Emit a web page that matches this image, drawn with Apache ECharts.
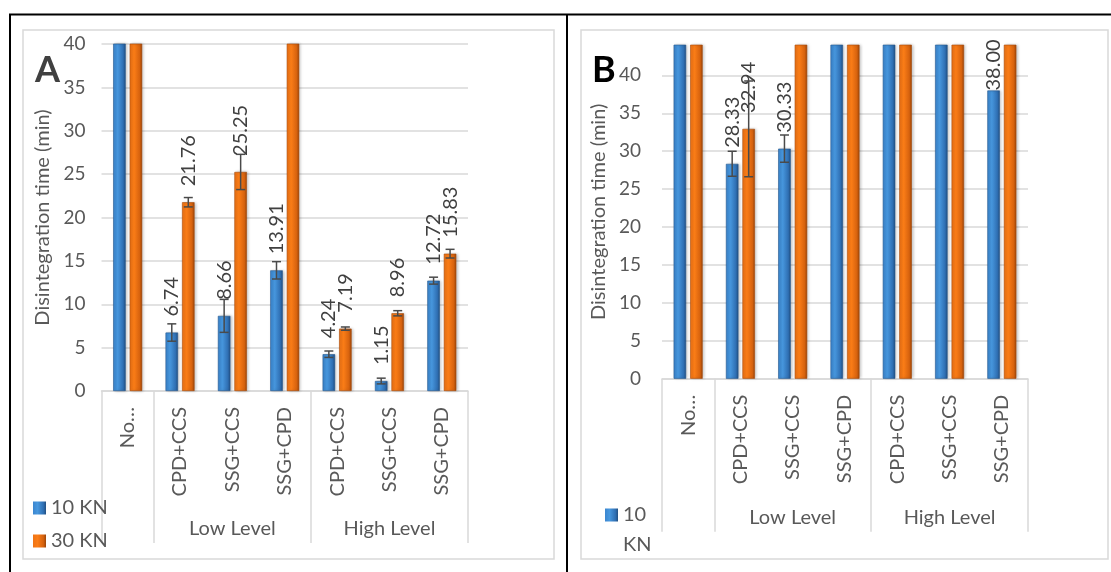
<!DOCTYPE html>
<html><head><meta charset="utf-8">
<script src="https://cdn.jsdelivr.net/npm/echarts@6/dist/echarts.min.js"></script>
<style>html,body{margin:0;padding:0;background:#fff;}#c{width:1111px;height:572px;}</style>
</head><body><div id="c"></div>
<script>
// ---------- data ----------
const categories = ['No…', 'CPD+CCS', 'SSG+CCS', 'SSG+CPD', 'CPD+CCS', 'SSG+CCS', 'SSG+CPD'];
const groups = ['', 'Low Level', 'Low Level', 'Low Level', 'High Level', 'High Level', 'High Level'];
const seriesNames = ['10 KN', '30 KN'];
// Panel A (values above the axis maximum are cut off in the figure)
const a10 = [45, 6.74, 8.66, 13.91, 4.24, 1.15, 12.72];
const a30 = [45, 21.76, 25.25, 45, 7.19, 8.96, 15.83];
const a10Err = [0, 1.0, 1.9, 1.0, 0.37, 0.33, 0.4];
const a30Err = [0, 0.54, 2.03, 0, 0.19, 0.3, 0.5];
// Panel B
const b10 = [48, 28.33, 30.33, 48, 48, 48, 38.00];
const b30 = [48, 32.94, 48, 48, 48, 48, 48];
const b10Err = [0, 1.65, 1.8, 0, 0, 0, 0];
const b30Err = [0, 6.3, 0, 0, 0, 0, 0];
const yMaxA = 40, yMaxB = 44, yStep = 5;

// ---------- styling ----------
const FONT = 'Lato';
const AX = '#595959';
const GRID = '#d9d9d9';
const BAR_W = 12.5, BAR_GAP = 0.32;
const G = echarts.graphic.LinearGradient;
const colors = [
  new G(0, 0, 1, 0, [{offset: 0, color: '#3b86cf'}, {offset: 0.35, color: '#4797de'}, {offset: 0.8, color: '#2f6fb3'}, {offset: 1, color: '#234f80'}]),
  new G(0, 0, 1, 0, [{offset: 0, color: '#ef7415'}, {offset: 0.35, color: '#fb7d17'}, {offset: 0.8, color: '#d6620e'}, {offset: 1, color: '#9a450a'}])
];
const legendColors = [
  new G(0, 0, 0, 1, [{offset: 0, color: '#5aaef0'}, {offset: 1, color: '#2a64a6'}]),
  new G(0, 0, 0, 1, [{offset: 0, color: '#fb9a3a'}, {offset: 1, color: '#c4540c'}])
];

const boundary = i => i === 0 || groups[i] !== groups[i - 1];
const groupMid = i => {
  if (!groups[i]) return false;
  const idx = groups.map((g, k) => g === groups[i] ? k : -1).filter(k => k >= 0);
  return idx[Math.floor(idx.length / 2)] === i;
};

function xAxes(gi, tickLen, groupOffset) {
  return [
    {
      type: 'category', gridIndex: gi, data: categories, position: 'bottom',
      axisLine: {show: true, lineStyle: {color: GRID, width: 1.5}},
      axisTick: {show: true, length: tickLen, interval: boundary, lineStyle: {color: GRID, width: 1.5}},
      axisLabel: {rotate: 90, interval: 0, margin: 16, color: AX, fontSize: 20, fontFamily: FONT},
      splitLine: {show: false}
    },
    {
      type: 'category', gridIndex: gi, data: groups, position: 'bottom', offset: groupOffset,
      axisLine: {show: false}, axisTick: {show: false}, splitLine: {show: false},
      axisLabel: {interval: 0, margin: 0, color: AX, fontSize: 20, fontFamily: FONT,
        formatter: (v, i) => groupMid(i) ? v : ''}
    }
  ];
}

function yAxis(gi, max, margin, nameGap) {
  return {
    type: 'value', gridIndex: gi, min: 0, max: max, interval: yStep,
    name: 'Disintegration time (min)', nameLocation: 'middle', nameGap: nameGap,
    nameTextStyle: {color: AX, fontSize: 20, fontFamily: FONT},
    axisLine: {show: false}, axisTick: {show: false},
    axisLabel: {color: AX, fontSize: 19, fontFamily: FONT, margin: margin,
      formatter: v => (v % yStep === 0 ? String(v) : '')},
    splitLine: {show: true, showMaxLine: max % yStep === 0, lineStyle: {color: GRID, width: 1.5}}
  };
}

function barSeries(name, vals, k, gi, max) {
  return {
    name: name, type: 'bar', xAxisIndex: gi * 2, yAxisIndex: gi,
    barWidth: BAR_W, barGap: (BAR_GAP * 100) + '%', clip: true,
    itemStyle: {color: colors[k], borderColor: k === 0 ? '#24588f' : '#a8490a', borderWidth: 0.6,
      shadowColor: 'rgba(0,0,0,0.25)', shadowBlur: 3, shadowOffsetX: 1.5},
    data: vals.map(v => (v > max - 7 && v <= max) ? {value: v, label: {distance: 0}} : v),
    label: {show: true, position: 'top', rotate: 90, align: 'left', verticalAlign: 'middle',
      distance: 16, color: '#404040', fontSize: 20, fontFamily: FONT,
      formatter: p => (p.value > max ? '' : Number(p.value).toFixed(2))},
    z: 2
  };
}

function errSeries(vals, errs, k, gi) {
  return {
    type: 'custom', xAxisIndex: gi * 2, yAxisIndex: gi, z: 6, clip: true, silent: true,
    data: vals.map((v, i) => [i, v, errs[i]]),
    encode: {x: 0, y: 1},
    renderItem: (params, api) => {
      const i = api.value(0), v = api.value(1), e = api.value(2);
      if (!e) return null;
      const off = (k === 0 ? -1 : 1) * BAR_W * (1 + BAR_GAP) / 2;
      const hi = api.coord([i, v + e]), lo = api.coord([i, v - e]);
      const x = hi[0] + off, c = 4.5;
      const st = {stroke: '#4a4a4a', lineWidth: 1.5};
      return {type: 'group', children: [
        {type: 'line', shape: {x1: x, y1: hi[1], x2: x, y2: lo[1]}, style: st},
        {type: 'line', shape: {x1: x - c, y1: hi[1], x2: x + c, y2: hi[1]}, style: st},
        {type: 'line', shape: {x1: x - c, y1: lo[1], x2: x + c, y2: lo[1]}, style: st}
      ]};
    }
  };
}

// legend marker for panel B: 13x13 square at the top of a taller 13x43 box, so the first text line sits beside it
const tallIcon = 'path://M0,0L13,0L13,13L0,13Z M0,43L13,43L13,43L0,43Z';

const chart = echarts.init(document.getElementById('c'), null, {renderer: 'canvas'});
chart.setOption({
  animation: false,
  color: legendColors,
  grid: [
    {left: 101.5, right: 643, top: 44, bottom: 181},
    {left: 662, right: 83, top: 45, bottom: 193.3}
  ],
  xAxis: [...xAxes(0, 152, 128), ...xAxes(1, 153, 129)],
  yAxis: [yAxis(0, yMaxA, 16, 49), yAxis(1, yMaxB, 21, 53)],
  legend: [
    {data: seriesNames, orient: 'vertical', left: 33, top: 498, padding: 0, itemWidth: 13, itemHeight: 13,
      itemGap: 13, icon: 'rect', itemStyle: {borderWidth: 0},
      textStyle: {color: AX, fontSize: 20, fontFamily: FONT, lineHeight: 20}},
    {data: [seriesNames[0]], orient: 'vertical', left: 605, top: 500, padding: 0, itemWidth: 13, itemHeight: 43,
      icon: tallIcon, itemStyle: {borderWidth: 0}, formatter: n => n.replace(' ', '\n'),
      textStyle: {color: AX, fontSize: 20, fontFamily: FONT, lineHeight: 30}}
  ],
  series: [
    barSeries(seriesNames[0], a10, 0, 0, yMaxA),
    barSeries(seriesNames[1], a30, 1, 0, yMaxA),
    errSeries(a10, a10Err, 0, 0),
    errSeries(a30, a30Err, 1, 0),
    barSeries(seriesNames[0], b10, 0, 1, yMaxB),
    barSeries(seriesNames[1], b30, 1, 1, yMaxB),
    errSeries(b10, b10Err, 0, 1),
    errSeries(b30, b30Err, 1, 1)
  ],
  graphic: [
    {type: 'line', shape: {x1: 9, y1: 14.5, x2: 1111, y2: 14.5}, style: {stroke: '#000', lineWidth: 2}, z: 100},
    {type: 'line', shape: {x1: 10, y1: 14, x2: 10, y2: 572}, style: {stroke: '#000', lineWidth: 2}, z: 100},
    {type: 'line', shape: {x1: 567, y1: 14, x2: 567, y2: 572}, style: {stroke: '#000', lineWidth: 2}, z: 100},
    {type: 'rect', shape: {x: 23, y: 30, width: 531, height: 529}, style: {fill: 'none', stroke: GRID, lineWidth: 1.5}, z: -1},
    {type: 'rect', shape: {x: 581, y: 30, width: 527, height: 529}, style: {fill: 'none', stroke: GRID, lineWidth: 1.5}, z: -1},
    {type: 'text', left: 35, top: 52, style: {text: 'A', fill: '#404040', font: 'bold 36px Lato'}, z: 50},
    {type: 'text', left: 592, top: 52, style: {text: 'B', fill: '#000', font: 'bold 36px Lato'}, z: 50}
  ]
});
</script></body></html>
